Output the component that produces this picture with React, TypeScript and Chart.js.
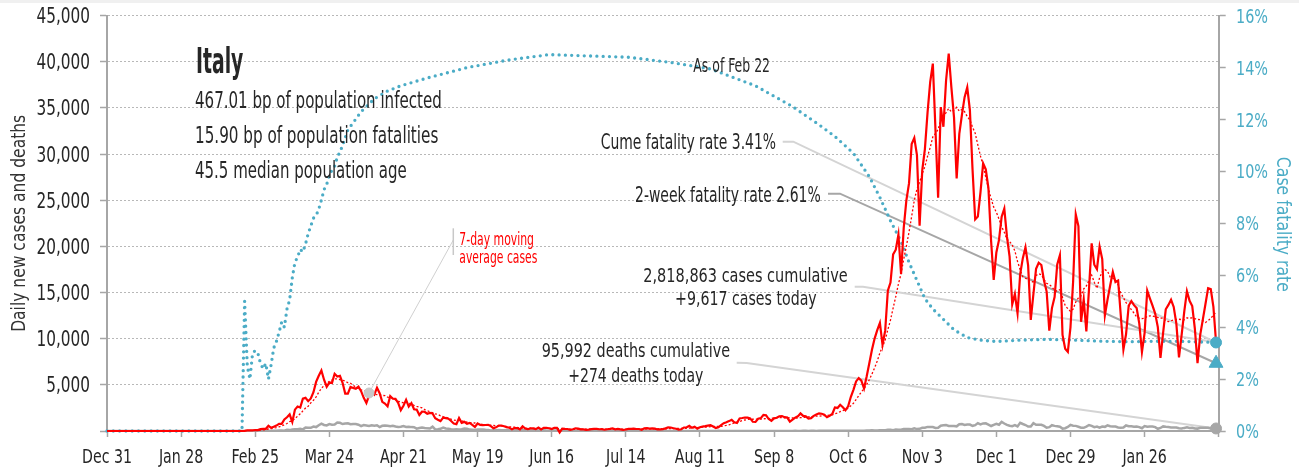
import React, { useEffect, useRef } from "react";
import { Chart, registerables } from "chart.js";

Chart.register(...registerables);

const FONT =
  "'Liberation Sans Narrow', 'Arial Narrow', 'DejaVu Sans Condensed', 'Roboto Condensed', 'Liberation Sans', sans-serif";
const BLUE = "#4bacc6";
const RED = "#ff0000";
const GREY = "#a6a6a6";
const TEXT = "#262626";

// ---- axes ----
const xTickLabels = [
  "Dec 31", "Jan 28", "Feb 25", "Mar 24", "Apr 21", "May 19", "Jun 16", "Jul 14",
  "Aug 11", "Sep 8", "Oct 6", "Nov 3", "Dec 1", "Dec 29", "Jan 26",
];
const xTickStep = 28; // days between x ticks, day 0 = Dec 31, 2019
const xMaxDay = 420;
const leftTickLabels = ["", "5,000", "10,000", "15,000", "20,000", "25,000", "30,000", "35,000", "40,000", "45,000"];
const leftTickStep = 5000;
const rightTickLabels = ["0%", "2%", "4%", "6%", "8%", "10%", "12%", "14%", "16%"];
const rightTickStep = 2;
const leftTitle = "Daily new cases and deaths";
const rightTitle = "Case fatality rate";

// ---- daily new cases (day 0 = Dec 31, 2019) ----
const casesDec2019 = [0];
const casesJan2020 = [0, 0, 0, 0, 0, 0, 0, 0, 0, 0, 0, 0, 0, 0, 0, 0, 0, 0, 0, 0, 0, 0, 0, 0, 0, 0, 0, 0, 0, 0, 2];
const casesFeb2020 = [0, 0, 0, 0, 0, 0, 1, 0, 0, 0, 0, 0, 0, 0, 0, 0, 0, 0, 0, 0, 17, 59, 76, 68, 105, 95, 198, 238, 240];
const casesMar2020 = [566, 342, 466, 587, 769, 778, 1247, 1492, 1797, 977, 2313, 2651, 2547, 3497, 3590, 3233, 3526, 4207, 5322, 5986, 6557, 5560, 4789, 5249, 5210, 6203, 5909, 5974, 5217, 4050, 4053];
const casesApr2020 = [4782, 4668, 4585, 4805, 4316, 3599, 3039, 3836, 4204, 3951, 4694, 4092, 3153, 2972, 2667, 3786, 3493, 3491, 3047, 2256, 2729, 3370, 2646, 3021, 2357, 2324, 1739, 2091, 2086, 1872];
const casesMay2020 = [1965, 1900, 1389, 1221, 1075, 1444, 1401, 1327, 1083, 802, 744, 1402, 888, 992, 789, 875, 675, 451, 813, 665, 642, 652, 669, 531, 300, 397, 584, 593, 516, 416, 355];
const casesJun2020 = [178, 318, 321, 177, 518, 270, 197, 280, 283, 202, 379, 163, 346, 338, 301, 210, 329, 333, -148, 262, 224, 218, 122, 190, 296, 259, 175, 174, 126, 142];
const casesJul2020 = [201, 223, 235, 192, 208, 138, 193, 229, 276, 188, 234, 169, 114, 162, 230, 233, 249, 219, 218, 129, 282, 306, 252, 275, 255, 170, 181, 212, 289, 386, 379];
const casesAug2020 = [295, 239, 159, 190, 384, 402, 552, 347, 463, 259, 412, 481, 523, 574, 629, 479, 320, 403, 642, 845, 947, 1071, 1210, 953, 878, 1367, 1411, 1462, 1444, 1365, 996];
const casesSep2020 = [978, 1326, 1397, 1733, 1695, 1297, 1108, 1370, 1434, 1597, 1616, 1501, 1458, 1008, 1229, 1452, 1585, 1907, 1638, 1587, 1350, 1392, 1640, 1786, 1912, 1869, 1766, 1494, 1648, 1851];
const casesOct2020 = [2548, 2499, 2844, 2578, 2257, 2677, 3678, 4458, 5372, 5724, 5456, 4619, 5901, 7332, 8804, 10010, 10925, 11705, 9338, 10874, 15199, 16079, 19143, 19644, 21273, 17012, 21994, 24991, 26831, 31084, 31758];
const casesNov2020 = [29907, 22253, 28244, 30550, 34505, 37809, 39811, 32616, 25271, 35098, 32961, 37978, 40902, 37255, 33979, 27354, 32191, 34283, 36176, 37242, 34767, 28337, 22930, 23232, 25853, 29003, 28352, 26323, 20648, 16377];
const casesDec2020 = [19350, 20709, 23225, 24099, 21052, 18887, 13720, 14842, 12756, 16999, 18727, 19903, 17938, 12030, 14844, 17572, 18236, 17992, 16308, 15104, 10872, 13318, 14522, 18040, 19037, 10407, 8913, 8585, 11212, 16202, 23477];
const casesJan2021 = [22211, 11831, 14245, 10800, 15378, 20331, 18020, 17533, 19978, 18627, 12532, 14242, 15774, 17246, 16146, 16310, 12545, 8825, 10497, 13571, 14078, 13633, 13331, 11629, 8561, 10593, 15204, 14372, 13574, 12715, 11252];
const casesFeb2021 = [7925, 10630, 13189, 13659, 14218, 13442, 11641, 7970, 10404, 12956, 15146, 14111, 13532, 11068, 7351, 10386, 12074, 13762, 15479, 15370, 13452, 9617];

// ---- daily deaths ----
const deathsDec2019 = [0];
const deathsJan2020 = [0, 0, 0, 0, 0, 0, 0, 0, 0, 0, 0, 0, 0, 0, 0, 0, 0, 0, 0, 0, 0, 0, 0, 0, 0, 0, 0, 0, 0, 0, 0];
const deathsFeb2020 = [0, 0, 0, 0, 0, 0, 0, 0, 0, 0, 0, 0, 0, 0, 0, 0, 0, 0, 0, 0, 1, 1, 1, 4, 3, 2, 5, 4, 8];
const deathsMar2020 = [5, 18, 27, 28, 41, 49, 36, 133, 97, 168, 196, 189, 250, 175, 368, 349, 345, 475, 427, 627, 793, 651, 601, 743, 683, 712, 919, 889, 756, 812, 837];
const deathsApr2020 = [727, 760, 766, 681, 525, 636, 604, 542, 610, 570, 619, 431, 566, 602, 578, 525, 575, 482, 433, 454, 534, 437, 464, 420, 415, 260, 333, 382, 323, 285];
const deathsMay2020 = [269, 474, 174, 195, 236, 369, 274, 243, 194, 165, 179, 172, 195, 262, 242, 153, 145, 99, 162, 161, 156, 130, 119, 50, 92, 78, 117, 70, 87, 111, 75];
const deathsJun2020 = [60, 55, 71, 88, 85, 72, 53, 65, 79, 71, 53, 56, 78, 44, 26, 34, 43, 66, 47, 49, 24, 23, 18, 30, 34, 30, 8, 22, 6, 23];
const deathsJul2020 = [21, 30, 15, 21, 7, 8, 30, 15, 12, 12, 7, 9, 13, 17, 20, 11, 14, 9, 7, 3, 15, 17, 10, 5, 5, 5, 11, 6, 9, 3, 5];
const deathsAug2020 = [12, 8, 5, 10, 6, 10, 6, 3, 13, 3, 4, 6, 10, 6, 3, 4, 7, 15, 4, 6, 9, 2, 4, 7, 4, 13, 5, 9, 1, 4, 6];
const deathsSep2020 = [6, 6, 10, 10, 10, 7, 4, 13, 9, 10, 10, 7, 9, 7, 9, 14, 10, 10, 24, 15, 9, 20, 14, 10, 17, 24, 17, 16, 24, 19];
const deathsOct2020 = [23, 24, 23, 18, 16, 28, 31, 22, 28, 29, 26, 39, 41, 43, 83, 55, 47, 69, 73, 89, 127, 136, 91, 151, 128, 141, 221, 205, 217, 199, 297];
const deathsNov2020 = [208, 233, 353, 352, 445, 446, 425, 331, 356, 580, 623, 636, 550, 544, 546, 504, 731, 753, 653, 699, 692, 562, 630, 853, 722, 822, 827, 686, 541, 672];
const deathsDec2020 = [785, 684, 993, 814, 662, 564, 528, 634, 499, 887, 761, 649, 484, 491, 846, 680, 683, 674, 553, 352, 415, 628, 553, 505, 459, 261, 305, 445, 659, 575, 555];
const deathsJan2021 = [462, 364, 347, 483, 649, 548, 414, 483, 361, 483, 448, 616, 522, 477, 475, 377, 361, 377, 603, 524, 521, 472, 492, 420, 299, 541, 467, 492, 477, 421, 237];
const deathsFeb2021 = [329, 499, 456, 421, 391, 377, 384, 307, 266, 336, 391, 316, 353, 269, 258, 356, 347, 353, 347, 280, 232, 274];

// ---- case fatality rate (%) ----
const cfrDays = [0, 51, 52, 53, 54, 55, 56, 57, 58, 59, 60, 61, 62, 63, 64, 65, 66, 67, 68, 69, 70, 71, 72, 73, 74, 75, 76, 77, 78, 79, 80, 81, 82, 83, 84, 85, 86, 87, 88, 89, 90, 91, 96, 101, 106, 111, 121, 136, 152, 167, 182, 197, 213, 228, 245, 259, 269, 275, 282, 288, 292, 296, 300, 303, 306, 309, 312, 316, 320, 325, 330, 336, 345, 355, 366, 376, 386, 398, 407, 419];
const cfrPercent = [0, 0, 5.0, 2.5, 2.0, 3.0, 3.1, 3.0, 2.6, 2.4, 2.6, 2.0, 2.55, 3.2, 3.45, 3.8, 4.2, 4.0, 4.7, 5.05, 5.9, 6.5, 6.7, 7.0, 6.9, 7.2, 7.6, 7.9, 8.2, 8.3, 8.55, 8.9, 9.3, 9.5, 9.85, 10.05, 10.2, 10.55, 10.75, 11.0, 11.3, 11.6, 12.3, 12.8, 13.1, 13.3, 13.6, 14.0, 14.3, 14.5, 14.45, 14.4, 14.2, 13.95, 13.3, 12.5, 11.8, 11.35, 10.7, 9.8, 9.0, 8.1, 7.3, 6.5, 5.8, 5.1, 4.7, 4.3, 3.9, 3.6, 3.5, 3.45, 3.5, 3.53, 3.5, 3.46, 3.44, 3.46, 3.45, 3.41];

// ---- headline numbers ----
const lastDay = 419;
const totalCases = 2818863;
const totalDeaths = 95992;
const casesToday = 9617;
const deathsToday = 274;
const cumeFatalityRate = 3.41;
const twoWeekFatalityRate = 2.61;
const bpInfected = "467.01";
const bpFatalities = "15.90";
const medianAge = "45.5";
const asOfLabel = "As of Feb 22";
const maMarkerDay = 99;

const dailyCases = [
  ...casesDec2019, ...casesJan2020, ...casesFeb2020, ...casesMar2020, ...casesApr2020,
  ...casesMay2020, ...casesJun2020, ...casesJul2020, ...casesAug2020, ...casesSep2020,
  ...casesOct2020, ...casesNov2020, ...casesDec2020, ...casesJan2021, ...casesFeb2021,
];
const dailyDeaths = [
  ...deathsDec2019, ...deathsJan2020, ...deathsFeb2020, ...deathsMar2020, ...deathsApr2020,
  ...deathsMay2020, ...deathsJun2020, ...deathsJul2020, ...deathsAug2020, ...deathsSep2020,
  ...deathsOct2020, ...deathsNov2020, ...deathsDec2020, ...deathsJan2021, ...deathsFeb2021,
];
// trailing 7-day moving average of the daily cases
const movingAverage7 = dailyCases.map((_, i) =>
  i < 6 ? null : dailyCases.slice(i - 6, i + 1).reduce((a, b) => a + b, 0) / 7
);

const fmt = (n: number) => n.toLocaleString("en-US");

type Txt = { t: string; x: number; b: number; w: number; size: number; weight?: string; color?: string };

const texts: Txt[] = [
  { t: "Italy", x: 196, b: 72.7, w: 47.3, size: 36, weight: "bold" },
  { t: `${bpInfected} bp of population infected`, x: 195, b: 108.3, w: 246.7, size: 23 },
  { t: `${bpFatalities} bp of population fatalities`, x: 195, b: 143.3, w: 243.3, size: 23 },
  { t: `${medianAge} median population age`, x: 195, b: 178.3, w: 211.7, size: 23 },
  { t: asOfLabel, x: 693.3, b: 71.7, w: 76.7, size: 19 },
  { t: `Cume fatality rate ${cumeFatalityRate.toFixed(2)}%`, x: 600.7, b: 149.3, w: 175.3, size: 20.5 },
  { t: `2-week fatality rate ${twoWeekFatalityRate.toFixed(2)}%`, x: 635, b: 201.7, w: 185.7, size: 20.5 },
  { t: "7-day moving", x: 459.3, b: 245, w: 74.7, size: 18, color: RED },
  { t: "average cases", x: 459.3, b: 263.3, w: 78, size: 18, color: RED },
  { t: `${fmt(totalCases)} cases cumulative`, x: 643.3, b: 281.7, w: 204.4, size: 19.5 },
  { t: `+${fmt(casesToday)} cases today`, x: 675, b: 305, w: 141.7, size: 19.5 },
  { t: `${fmt(totalDeaths)} deaths cumulative`, x: 541.7, b: 356.7, w: 188.3, size: 19.5 },
  { t: `+${fmt(deathsToday)} deaths today`, x: 568.3, b: 381.7, w: 135, size: 19.5 },
];

function fitText(ctx: CanvasRenderingContext2D, d: Txt) {
  ctx.save();
  ctx.font = `${d.weight || "normal"} ${d.size}px ${FONT}`;
  const w = ctx.measureText(d.t).width;
  ctx.translate(d.x, d.b);
  ctx.scale(d.w / w, 1);
  ctx.fillStyle = d.color || TEXT;
  ctx.textAlign = "left";
  ctx.textBaseline = "alphabetic";
  ctx.fillText(d.t, 0, 0);
  ctx.restore();
}

// draws text condensed by factor k, anchored by align
function condensed(
  ctx: CanvasRenderingContext2D, t: string, x: number, b: number, size: number, k: number,
  align: "left" | "right" | "center", color: string, rot = 0
) {
  ctx.save();
  ctx.font = `normal ${size}px ${FONT}`;
  const w = ctx.measureText(t).width * k;
  ctx.translate(x, b);
  if (rot) ctx.rotate(rot);
  const left = align === "left" ? 0 : align === "right" ? -w : -w / 2;
  ctx.translate(left, 0);
  ctx.scale(k, 1);
  ctx.fillStyle = color;
  ctx.textAlign = "left";
  ctx.textBaseline = "alphabetic";
  ctx.fillText(t, 0, 0);
  ctx.restore();
}

function factor(ctx: CanvasRenderingContext2D, t: string, size: number, target: number) {
  ctx.save();
  ctx.font = `normal ${size}px ${FONT}`;
  const w = ctx.measureText(t).width;
  ctx.restore();
  return target / w;
}

const annotationPlugin = {
  id: "annotations",
  beforeDatasetsDraw(chart: any) {
    const { ctx, scales } = chart;
    const xs = scales.x, ys = scales.y, yr = scales.y1;
    const X = (d: number) => xs.getPixelForValue(d);
    const leader = (pts: number[][], color: string, width: number) => {
      ctx.save();
      ctx.strokeStyle = color;
      ctx.lineWidth = width;
      ctx.beginPath();
      pts.forEach((p, i) => (i ? ctx.lineTo(p[0], p[1]) : ctx.moveTo(p[0], p[1])));
      ctx.stroke();
      ctx.restore();
    };
    const endX = X(lastDay);
    leader([[782.7, 141.7], [793.3, 141.7], [endX, yr.getPixelForValue(cumeFatalityRate)]], "#d4d4d4", 2);
    leader([[828, 193.7], [840, 193.7], [endX, yr.getPixelForValue(twoWeekFatalityRate)]], "#a6a6a6", 2);
    leader([[854.7, 286.7], [863, 286.7], [endX, ys.getPixelForValue(casesToday)]], "#d4d4d4", 2);
    leader([[736.7, 362.7], [746.7, 363], [endX, ys.getPixelForValue(deathsToday)]], "#d4d4d4", 2);
    const ma = movingAverage7[maMarkerDay] as number;
    leader([[X(maMarkerDay), ys.getPixelForValue(ma)], [453.3, 240]], "#d0d0d0", 1);
    leader([[453.3, 228.3], [453.3, 255]], "#c8c8c8", 1.5);
  },
  afterDraw(chart: any) {
    const { ctx, scales, chartArea } = chart;
    const xs = scales.x, ys = scales.y, yr = scales.y1;

    // left tick labels
    const kl = factor(ctx, "45,000", 21, 53.5);
    leftTickLabels.forEach((lab, i) => {
      if (!lab) return;
      condensed(ctx, lab, chartArea.left - 17, ys.getPixelForValue(i * leftTickStep) + 7.5, 21, kl, "right", TEXT);
    });
    // x tick labels
    const kx = factor(ctx, "Dec 31", 19, 50);
    xTickLabels.forEach((lab, i) => {
      condensed(ctx, lab, xs.getPixelForValue(i * xTickStep), chartArea.bottom + 32.3, 19, kx, "center", TEXT);
    });
    // right tick labels
    const kr = factor(ctx, "16%", 19, 32);
    rightTickLabels.forEach((lab, i) => {
      condensed(ctx, lab, chartArea.right + 17.3, yr.getPixelForValue(i * rightTickStep) + 7, 19, kr, "left", BLUE);
    });
    // axis titles
    const midY = (chartArea.top + chartArea.bottom) / 2;
    const kt = factor(ctx, leftTitle, 19, 217);
    condensed(ctx, leftTitle, 25, midY, 19, kt, "center", "#333333", -Math.PI / 2);
    const krt = factor(ctx, rightTitle, 19, 135);
    condensed(ctx, rightTitle, 1277, midY + 1, 19, krt, "center", BLUE, Math.PI / 2);

    texts.forEach((d) => fitText(ctx, d));
  },
};

export default function App() {
  const ref = useRef<HTMLCanvasElement | null>(null);
  useEffect(() => {
    if (!ref.current) return;
    Chart.defaults.font.family = FONT;
    const xy = (arr: (number | null)[]) => arr.map((v, i) => ({ x: i, y: v }));
    const zeroPad = (s: any) => { s.paddingTop = 0; s.paddingBottom = 0; s.paddingLeft = 0; s.paddingRight = 0; };
    const chart = new Chart(ref.current, {
      type: "line",
      data: {
        datasets: [
          {
            label: "markers-cume",
            data: [{ x: lastDay, y: cumeFatalityRate }],
            yAxisID: "y1",
            showLine: false,
            pointRadius: 5.5,
            pointBackgroundColor: BLUE,
            pointBorderColor: BLUE,
            clip: false,
            order: 0,
          } as any,
          {
            label: "markers-2wk",
            data: [{ x: lastDay, y: twoWeekFatalityRate }],
            yAxisID: "y1",
            showLine: false,
            pointStyle: "triangle",
            pointRadius: 8,
            pointBackgroundColor: BLUE,
            pointBorderColor: BLUE,
            clip: false,
            order: 0,
          } as any,
          {
            label: "markers-deaths",
            data: [{ x: lastDay, y: deathsToday }],
            yAxisID: "y",
            showLine: false,
            pointRadius: 5.5,
            pointBackgroundColor: GREY,
            pointBorderColor: GREY,
            clip: false,
            order: 0,
          } as any,
          {
            label: "markers-ma",
            data: [{ x: maMarkerDay, y: movingAverage7[maMarkerDay] }],
            yAxisID: "y",
            showLine: false,
            pointRadius: 5,
            pointBackgroundColor: "#c8c8c8",
            pointBorderColor: "#c8c8c8",
            clip: false,
            order: 0,
          } as any,
          {
            label: "Daily new cases",
            data: xy(dailyCases),
            yAxisID: "y",
            borderColor: RED,
            borderWidth: 2.2,
            pointRadius: 0,
            tension: 0,
            clip: false,
            order: 1,
          } as any,
          {
            label: "7-day moving average cases",
            data: xy(movingAverage7),
            yAxisID: "y",
            borderColor: RED,
            borderWidth: 1.3,
            borderDash: [2, 2],
            pointRadius: 0,
            tension: 0,
            spanGaps: false,
            order: 2,
          } as any,
          {
            label: "Daily deaths",
            data: xy(dailyDeaths),
            yAxisID: "y",
            borderColor: GREY,
            borderWidth: 2.5,
            pointRadius: 0,
            tension: 0,
            order: 3,
          } as any,
          {
            label: "Case fatality rate",
            data: cfrDays.map((d, i) => ({ x: d, y: cfrPercent[i] })),
            yAxisID: "y1",
            borderColor: BLUE,
            borderWidth: 3.3,
            borderDash: [0, 6.3],
            borderCapStyle: "round",
            pointRadius: 0,
            tension: 0,
            clip: false,
            order: 4,
          } as any,
        ],
      },
      options: {
        responsive: false,
        animation: false,
        devicePixelRatio: 1,
        events: [],
        layout: { padding: { top: 15.7, left: 0, right: 0, bottom: 0 } },
        plugins: { legend: { display: false }, tooltip: { enabled: false } },
        scales: {
          x: {
            type: "linear",
            min: 0,
            max: xMaxDay,
            afterFit: (s: any) => { s.height = 39; zeroPad(s); },
            border: { display: true, color: GREY, width: 2 },
            grid: { display: true, drawOnChartArea: false, drawTicks: true, tickLength: 6, tickColor: GREY, tickWidth: 1.5 },
            ticks: { display: false, stepSize: xTickStep, autoSkip: false, maxRotation: 0 },
          },
          y: {
            type: "linear",
            position: "left",
            min: 0,
            max: 45000,
            afterFit: (s: any) => { s.width = 107; zeroPad(s); },
            border: { display: true, color: GREY, width: 2, dash: [2, 2] },
            grid: { color: "#b8b8b8", lineWidth: 1, drawTicks: true, tickLength: 7, tickColor: GREY, tickWidth: 1.5 },
            ticks: { display: false, stepSize: leftTickStep, autoSkip: false },
          },
          y1: {
            type: "linear",
            position: "right",
            min: 0,
            max: 16,
            afterFit: (s: any) => { s.width = 1299 - 1218.7; zeroPad(s); },
            border: { display: true, color: GREY, width: 2 },
            grid: { drawOnChartArea: false, drawTicks: true, tickLength: 7, tickColor: GREY, tickWidth: 1.5 },
            ticks: { display: false, stepSize: rightTickStep, autoSkip: false },
          },
        },
      } as any,
      plugins: [annotationPlugin],
    });
    return () => chart.destroy();
  }, []);

  return (
    <div style={{ position: "absolute", left: 0, top: 0, width: 1299, height: 470, background: "#ffffff" }}>
      <canvas ref={ref} width={1299} height={470} style={{ display: "block" }} />
      <div style={{ position: "absolute", left: 0, top: 0, width: 1299, height: 3, background: "#f0f0f0" }} />
    </div>
  );
}
